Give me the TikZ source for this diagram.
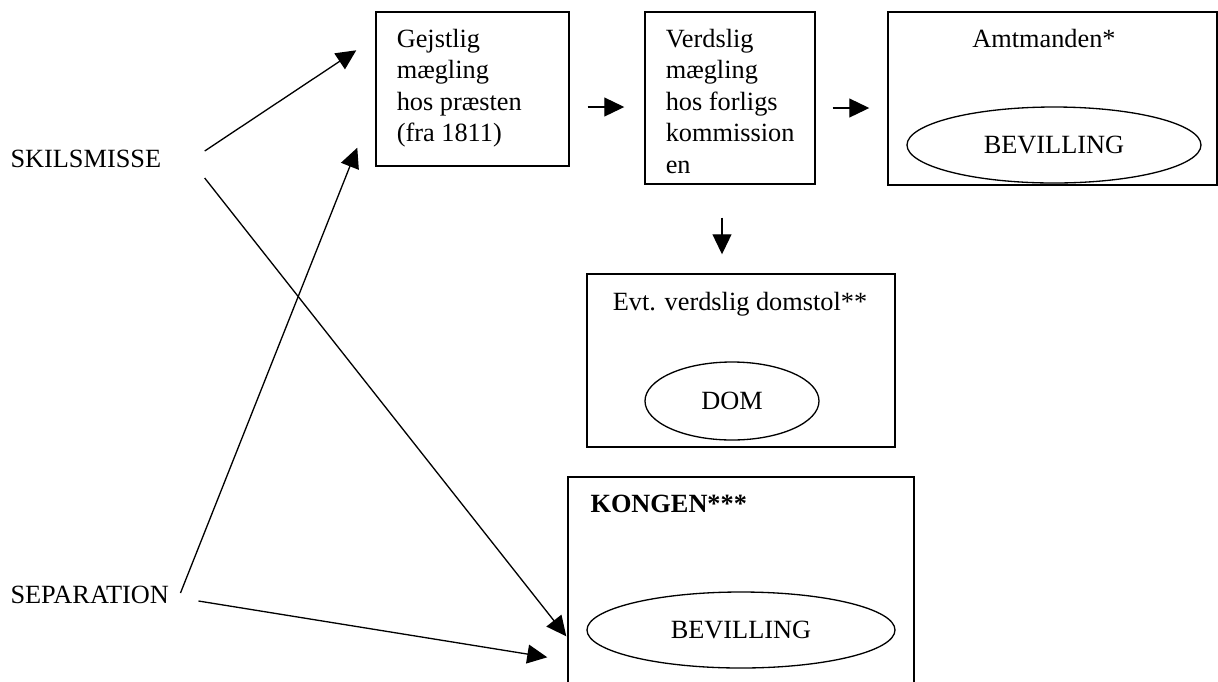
\documentclass[tikz,border=0pt]{standalone}
\usepackage{fontspec}
\setmainfont{Liberation Serif}
\usetikzlibrary{calc,arrows.meta,positioning,shapes.geometric}
\newdimen\pxu
\pxu=0.38pt

\begin{document}
\begin{tikzpicture}[x=0.38pt, y=-0.38pt,
    box/.style={rectangle, draw, line width=0.55pt, inner sep=0pt},
    oval/.style={ellipse, draw, line width=0.5pt, inner sep=0pt, minimum height=76*\pxu},
    lbl/.style={inner sep=0pt},
    arr/.style={-{Triangle[length=7.6pt,width=7.2pt]}, line width=0.5pt}]
    \path[use as bounding box] (0,0) rectangle (1218,681);

    % left hand side
    \node[lbl, anchor=base west] (skil) at (10,167) {SKILSMISSE};
    \node[lbl, anchor=base west] (sep) at (10,603) {SEPARATION};

    % top row of boxes
    \node[box, minimum width=193*\pxu, minimum height=154*\pxu] (gej) at (472.5,89) {};
    \node[lbl, anchor=north west, align=left] (gejtxt) at ($(gej.north west)+(21,17)$)
        {Gejstlig\\mægling\\hos præsten\\(fra 1811)};
    \node[box, minimum width=170*\pxu, minimum height=172*\pxu] (ver) at (730,98) {};
    \node[lbl, anchor=north west, align=left] (vertxt) at ($(ver.north west)+(21,17)$)
        {Verdslig\\mægling\\hos forligs\\kommission\\en};
    \node[box, minimum width=329*\pxu, minimum height=173*\pxu] (amt) at (1052.5,98.5) {};
    \node[lbl, anchor=base] (amttxt) at (1044,47) {Amtmanden*};
    \node[oval, minimum width=294*\pxu] (amtbev) at (1054,145) {BEVILLING\hspace{14\pxu}};

    % court
    \node[box, minimum width=308*\pxu, minimum height=173*\pxu] (evt) at (741,360.5) {};
    \node[lbl, anchor=base] (evttxt) at (740,310) {Evt. verdslig domstol**};
    \node[oval, minimum width=174*\pxu, minimum height=78*\pxu] (dom) at (732,401) {DOM\hspace{32\pxu}};

    % the king
    \node[box, minimum width=346*\pxu, minimum height=223*\pxu] (kong) at (741,588.5) {};
    \node[lbl, anchor=base west, font=\bfseries] (kongtxt) at (590,512) {KONGEN***};
    \node[oval, minimum width=308*\pxu] (kongbev) at (741,630) {BEVILLING\hspace{48\pxu}};

    % arrows
    \draw[arr] ($(skil.base east)+(43,-16)$) -- ($(gej.north west)+(-19,39)$);
    \draw[arr] ($(skil.base east)+(43,11)$) -- ($(kong.north west)+(-1,160)$);
    \draw[arr] ($(sep.base east)+(11,-10)$) -- ($(gej.south west)+(-18,-19)$);
    \draw[arr] ($(sep.base east)+(29,-2)$) -- ($(kong.north west)+(-20,181)$);
    \draw[arr] ($(gej.east)+(18,18)$) -- ($(ver.west)+(-20,9)$);
    \draw[arr] ($(ver.east)+(17,10)$) -- ($(amt.west)+(-18,9.5)$);
    \draw[arr] ($(ver.south)+(-8,33)$) -- ($(evt.north)+(-19,-19)$);
\end{tikzpicture}
\end{document}
